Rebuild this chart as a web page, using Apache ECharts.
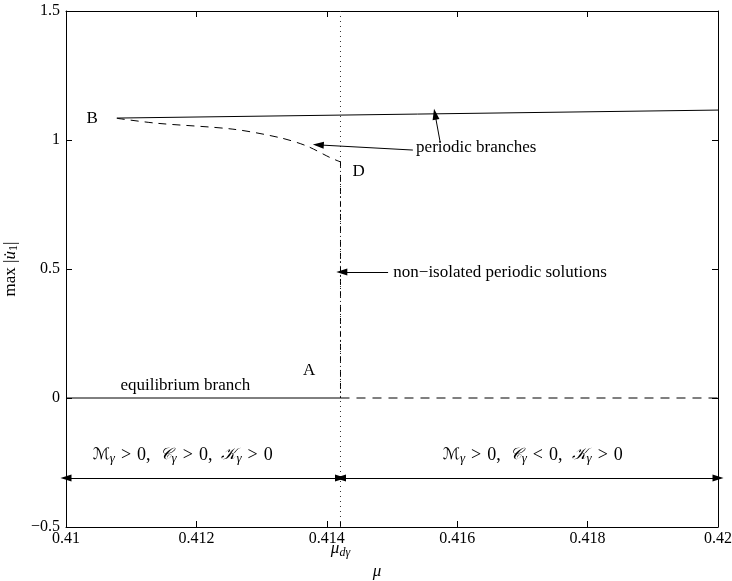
<!DOCTYPE html>
<html><head><meta charset="utf-8">
<script src="https://cdn.jsdelivr.net/npm/echarts@6/dist/echarts.min.js"></script>
<style>html,body{margin:0;padding:0;background:#fff}#c{width:732px;height:581px}</style>
</head><body><div id="c"></div>
<script>
// ---- data ----
const xTickLabels = ['0.41','0.412','0.414','0.416','0.418','0.42'];
const yTickLabels = ['\u22120.5','0','0.5','1','1.5'];
const muD = 0.41421;
const upperX = [0.41078, 0.42];
const upperY = [1.085, 1.116];
const lowerX = [0.41078, 0.41139, 0.41256, 0.41328, 0.41369, 0.41405, 0.41421];
const lowerY = [1.084, 1.065, 1.042, 1.009, 0.977, 0.932, 0.915];
const vertX = [muD, muD];
const vertY = [0.915, 0];
const eqStableX = [0.41, muD];
const eqStableY = [0, 0];
const eqUnstableX = [muD, 0.42];
const eqUnstableY = [0, 0];
const regionY = -0.31;

const zip = (a, b) => a.map((v, i) => [v, b[i]]);
const FONT = 'Liberation Serif';
const chart = echarts.init(document.getElementById('c'), null, {renderer: 'canvas'});

const axCommon = {
  axisLine: {show: true, onZero: false, lineStyle: {color: '#000', width: 1}},
  axisTick: {show: true, inside: true, length: 6, lineStyle: {color: '#000'}},
  splitLine: {show: false}
};

const option = {
  animation: false,
  backgroundColor: '#fff',
  grid: {left: 66, right: 14, top: 11, bottom: 54, containLabel: false, outerBoundsMode: 'none'},
  xAxis: [
    Object.assign({type: 'value', min: 0.41, max: 0.42, interval: 0.002, position: 'bottom',
      axisLabel: {color: '#000', fontFamily: FONT, fontSize: 16, margin: 4,
        formatter: (v, i) => xTickLabels[i]}}, axCommon),
    Object.assign({type: 'value', min: 0.41, max: 0.42, interval: 0.002, position: 'top',
      axisLabel: {show: false}}, axCommon)
  ],
  yAxis: [
    Object.assign({type: 'value', min: -0.5, max: 1.5, interval: 0.5, position: 'left',
      axisLabel: {color: '#000', fontFamily: FONT, fontSize: 16, margin: 6,
        formatter: (v, i) => yTickLabels[i]},
      name: '{n|max |}{i|u\u0307}{s|1}{n||}', nameLocation: 'middle', nameGap: 42, nameRotate: 90,
      nameTextStyle: {rich: {
        n: {fontFamily: FONT, fontSize: 17, color: '#000'},
        i: {fontFamily: FONT, fontSize: 17, fontStyle: 'italic', color: '#000'},
        s: {fontFamily: FONT, fontSize: 12, color: '#000', padding: [8, 0, 0, 0]}
      }}}, axCommon),
    Object.assign({type: 'value', min: -0.5, max: 1.5, interval: 0.5, position: 'right',
      axisLabel: {show: false}}, axCommon)
  ],
  series: [
    {type: 'line', data: zip(upperX, upperY), symbol: 'none', lineStyle: {color: '#000', width: 1}},
    {type: 'line', data: zip(lowerX, lowerY), symbol: 'none', smooth: 0.3,
      lineStyle: {color: '#000', width: 1, type: [8, 6]}},
    {type: 'line', data: zip(vertX, vertY), symbol: 'none',
      lineStyle: {color: '#000', width: 1, type: [6, 3, 1, 3]}},
    {type: 'line', data: [[muD, 1.5], [muD, -0.5]], symbol: 'none',
      lineStyle: {color: '#333', width: 1, type: [1, 4]}},
    {type: 'line', data: zip(eqStableX, eqStableY), symbol: 'none', lineStyle: {color: '#000', width: 1}},
    {type: 'line', data: zip(eqUnstableX, eqUnstableY), symbol: 'none',
      lineStyle: {color: '#000', width: 1, type: [9, 7]}},
    {type: 'line', data: [], symbol: 'none',
      markLine: {silent: true, animation: false, symbol: ['none', 'triangle'], symbolSize: [7, 11],
        label: {show: false}, lineStyle: {color: '#000', width: 1, type: 'solid'},
        data: [
          [{coord: [0.41532, 0.961]}, {coord: [0.41387, 0.981]}],
          [{coord: [0.41574, 0.990]}, {coord: [0.41566, 1.100]}],
          [{coord: [0.41494, 0.488]}, {coord: [0.41423, 0.488]}]
        ]}},
    {type: 'line', data: [], symbol: 'none',
      markLine: {silent: true, animation: false, symbol: ['triangle', 'triangle'], symbolSize: [7, 11],
        label: {show: false}, lineStyle: {color: '#000', width: 1, type: 'solid'},
        data: [
          [{coord: [0.41, regionY]}, {coord: [muD, regionY]}],
          [{coord: [muD, regionY]}, {coord: [0.42, regionY]}]
        ]}}
  ]
};
chart.setOption(option);

const P = (x, y) => chart.convertToPixel({gridIndex: 0}, [x, y]);
const txt = (pos, text, align, extra) => Object.assign({
  type: 'text', x: pos[0], y: pos[1],
  style: Object.assign({text: text, fill: '#000', font: '17px "Liberation Serif"', align: align, verticalAlign: 'middle'}, extra || {})
});
const mathRich = {
  s: {fontFamily: 'DejaVu Sans', fontSize: 16, fontStyle: 'italic', fill: '#000'},
  g: {fontFamily: FONT, fontSize: 13, fontStyle: 'italic', fill: '#000', padding: [7, 0, 0, 0]},
  n: {fontFamily: FONT, fontSize: 18, fill: '#000'}
};
const mathText = (op) => '{s|\u2133}{g|\u03b3}{n|\u2004>\u20040,\u2002}{s|\uD835\uDC9E}{g|\u03b3}{n|\u2004' + op + '\u20040,\u2002}{s|\uD835\uDCA6}{g|\u03b3}{n|\u2004>\u20040}';
const muPos = P(muD, -0.5);
const xMid = P(0.41477, -0.5);
chart.setOption({graphic: [
  txt(P(0.4104, 1.085), 'B', 'center'),
  txt(P(0.41449, 0.876), 'D', 'center'),
  txt(P(0.41537, 0.969), 'periodic branches', 'left'),
  txt(P(0.41502, 0.488), 'non\u2212isolated periodic solutions', 'left'),
  txt(P(0.41373, 0.105), 'A', 'center'),
  txt(P(0.41183, 0.047), 'equilibrium branch', 'center'),
  {type: 'text', x: P(0.41179, -0.221)[0], y: P(0.41179, -0.221)[1],
    style: {text: mathText('>'), rich: mathRich, align: 'center', verticalAlign: 'middle', fill: '#000'}},
  {type: 'text', x: P(0.41716, -0.221)[0], y: P(0.41716, -0.221)[1],
    style: {text: mathText('<'), rich: mathRich, align: 'center', verticalAlign: 'middle', fill: '#000'}},
  {type: 'text', x: muPos[0], y: muPos[1] + 22,
    style: {text: '{m|\u03bc}{d|d\u03b3}', rich: {
      m: {fontFamily: FONT, fontSize: 17, fontStyle: 'italic', fill: '#000'},
      d: {fontFamily: FONT, fontSize: 12, fontStyle: 'italic', fill: '#000', padding: [7, 0, 0, 0]}},
      align: 'center', verticalAlign: 'middle'}},
  {type: 'text', x: xMid[0], y: muPos[1] + 45,
    style: {text: '\u03bc', fill: '#000', font: 'italic 17px "Liberation Serif"', align: 'center', verticalAlign: 'middle'}},
  {type: 'line', shape: {x1: muPos[0], y1: muPos[1], x2: muPos[0], y2: muPos[1] - 5}, style: {stroke: '#000', lineWidth: 1}}
]});
</script>
</body></html>
